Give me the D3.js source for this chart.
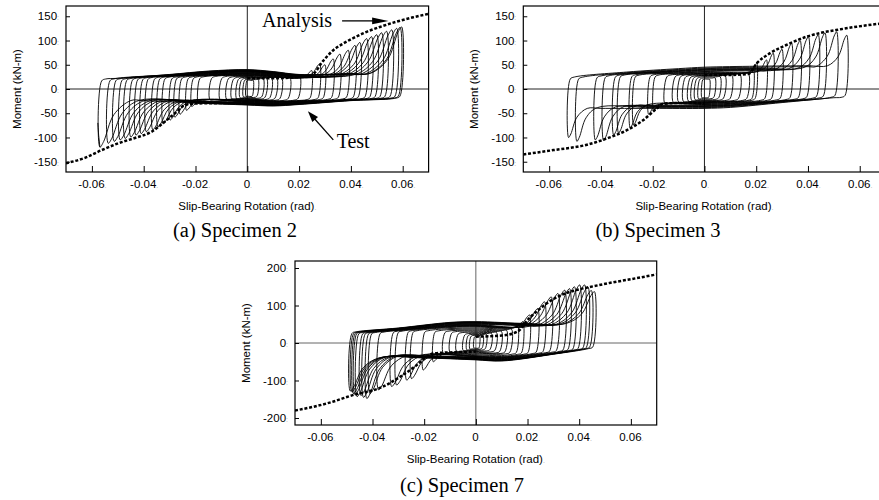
<!DOCTYPE html>
<html>
<head>
<meta charset="utf-8">
<script src="https://cdn.jsdelivr.net/npm/d3@7"></script>
<style>
  body { margin: 0; background: #fff; }
  svg { display: block; }
</style>
</head>
<body>
<div id="chart"></div>
<script>
"use strict";

// ---- shared tick values ----
const xTicks = [-0.06, -0.04, -0.02, 0, 0.02, 0.04, 0.06];
const yTicks150 = [-150, -100, -50, 0, 50, 100, 150];
const yTicks200 = [-200, -100, 0, 100, 200];

// ---- Specimen 2: cycle peaks (rad, kN-m) and slip level factor ----
const s2PosRot = [0.0023, 0.0042, 0.0062, 0.0075, 0.0094, 0.0114, 0.0133, 0.0165, 0.0203, 0.0249, 0.0280, 0.0300, 0.0332,
    0.0358, 0.0390, 0.0416, 0.0435, 0.0461, 0.0480, 0.0500, 0.0519, 0.0538, 0.0558, 0.0577, 0.0590, 0.0596];
const s2PosMom = [18, 20, 21, 22, 23, 23, 23, 23, 26, 38, 52, 50, 62, 72, 80, 90, 96, 104, 108, 112, 116, 119, 122, 125, 127, 128];
const s2NegRot = [-0.0005, -0.0015, -0.0028, -0.0041, -0.0060, -0.0080, -0.0105, -0.0144, -0.0190, -0.0215, -0.0235, -0.0260,
    -0.0280, -0.0298, -0.0325, -0.0345, -0.0365, -0.0390, -0.0410, -0.0430, -0.0450, -0.0472, -0.0491, -0.0514, -0.0537, -0.0569];
const s2NegMom = [-15, -16, -18, -20, -20, -21, -22, -22, -30, -36, -44, -52, -58, -64, -72, -78, -84, -88, -92, -95, -99, -102,
    -105, -108, -112, -120];
const s2Slip = [0.45, 0.5, 0.55, 0.6, 0.62, 0.65, 0.68, 0.7, 0.72, 0.74, 0.76, 0.78, 0.8, 0.82, 0.84, 0.86, 0.88, 0.9, 0.91,
    0.92, 0.93, 0.94, 0.95, 0.97, 0.98, 1.0];
// slip plateaus of the outer loops
const s2UpperSlip = [[-0.07, 18], [-0.05, 22], [-0.03, 30], [-0.015, 37], [0, 40], [0.01, 36], [0.02, 30], [0.04, 32], [0.07, 34]];
const s2LowerSlip = [[-0.07, -22], [-0.04, -24], [-0.02, -29], [0, -33], [0.01, -35], [0.02, -32], [0.04, -24], [0.07, -16]];
const s2Tail = [[-0.0569, -120], [-0.0574, -95], [-0.0577, -70]];
// analysis curve
const s2AnaPos = [[0, 22], [0.01, 22], [0.02, 25], [0.0249, 29], [0.0293, 58], [0.0332, 80], [0.0371, 94], [0.0409, 105],
    [0.0461, 118], [0.0512, 128], [0.0577, 139], [0.0641, 148], [0.07, 155]];
const s2AnaNeg = [[-0.07, -153], [-0.0627, -142], [-0.0562, -126], [-0.0498, -112], [-0.0434, -101], [-0.0369, -88],
    [-0.0318, -67], [-0.0279, -50], [-0.024, -33], [-0.02, -30], [-0.01, -29], [0, -28]];

// ---- Specimen 3 ----
const s3PosRot = [0.0020, 0.0041, 0.0061, 0.0080, 0.0106, 0.0138, 0.0170, 0.0190, 0.0202, 0.0240, 0.0266, 0.0300, 0.0337,
    0.0370, 0.0402, 0.0440, 0.0466, 0.0511, 0.0550];
const s3PosMom = [20, 23, 25, 27, 29, 30, 32, 40, 53, 60, 74, 82, 94, 100, 108, 112, 116, 118, 111];
const s3NegRot = [-0.0010, -0.0023, -0.0036, -0.0049, -0.0062, -0.0081, -0.0100, -0.0120, -0.0152, -0.0197, -0.0216, -0.0274,
    -0.0287, -0.0332, -0.0351, -0.0390, -0.0422, -0.0493, -0.0525];
const s3NegMom = [-18, -20, -22, -24, -25, -26, -27, -28, -32, -45, -52, -74, -80, -91, -95, -106, -105, -108, -100];
const s3Slip = [0.45, 0.5, 0.55, 0.6, 0.62, 0.65, 0.68, 0.7, 0.72, 0.75, 0.78, 0.8, 0.83, 0.86, 0.88, 0.9, 0.93, 0.96, 1.0];
const s3UpperSlip = [[-0.07, 22], [-0.05, 25], [-0.03, 35], [-0.01, 42], [0, 45], [0.02, 47], [0.04, 48], [0.07, 48]];
const s3LowerSlip = [[-0.07, -40], [-0.04, -40], [-0.02, -40], [0, -40], [0.01, -38], [0.03, -28], [0.05, -18], [0.07, -15]];
const s3AnaPos = [[0, 29], [0.01, 29], [0.017, 31], [0.0202, 53], [0.0254, 74], [0.033, 94], [0.0395, 108], [0.046, 117],
    [0.0524, 123], [0.0588, 128.5], [0.0666, 134], [0.07, 136]];
const s3AnaNeg = [[-0.07, -135], [-0.0583, -126], [-0.0454, -115], [-0.0377, -102], [-0.03, -85], [-0.0236, -64],
    [-0.0184, -40], [-0.0158, -30], [-0.01, -29], [0, -29]];

// ---- Specimen 7 ----
const s7PosRot = [0.0015, 0.0028, 0.0041, 0.0061, 0.0080, 0.0099, 0.0119, 0.0138, 0.0163, 0.0183, 0.0208, 0.0240, 0.0266,
    0.0292, 0.0318, 0.0344, 0.0363, 0.0382, 0.0402, 0.0421, 0.0434, 0.0447, 0.0459];
const s7PosMom = [17, 20, 23, 25, 28, 31, 34, 37, 44, 57, 75, 92, 110, 123, 132, 141, 145, 150, 155, 155, 150, 140, 137];
const s7NegRot = [-0.0008, -0.0023, -0.0035, -0.0049, -0.0075, -0.0100, -0.0126, -0.0165, -0.0204, -0.0249, -0.0268, -0.0307,
    -0.0326, -0.0377, -0.0410, -0.0422, -0.0435, -0.0445, -0.0460, -0.0468, -0.0474, -0.0480, -0.0486];
const s7NegMom = [-13, -16, -18, -20, -22, -25, -27, -50, -72, -95, -99, -112, -116, -125, -135, -148, -145, -140, -143, -138,
    -135, -130, -128];
const s7Slip = [0.3, 0.35, 0.4, 0.45, 0.5, 0.55, 0.6, 0.65, 0.7, 0.75, 0.78, 0.8, 0.82, 0.84, 0.86, 0.88, 0.9, 0.92, 0.94,
    0.96, 0.97, 0.98, 1.0];
const s7UpperSlip = [[-0.07, 28], [-0.045, 30], [-0.03, 40], [-0.01, 55], [0, 57], [0.02, 52], [0.045, 52], [0.07, 52]];
const s7LowerSlip = [[-0.07, -40], [-0.045, -40], [-0.02, -40], [0, -45], [0.01, -48], [0.03, -30], [0.045, -15], [0.07, -10]];
const s7AnaPos = [[0, 17], [0.01, 20], [0.016, 30], [0.0205, 65], [0.026, 98], [0.0324, 126], [0.0389, 141], [0.0453, 151],
    [0.0517, 160], [0.0582, 168], [0.0685, 181], [0.07, 183]];
const s7AnaNeg = [[-0.07, -180], [-0.0692, -179], [-0.0551, -156], [-0.0486, -141], [-0.0358, -116], [-0.0293, -90],
    [-0.0229, -59], [-0.019, -37], [-0.0165, -28], [-0.01, -25], [0, -23]];

// panel layout (pixels)
const panels = [
    { id: "a", left: 66, right: 428.6, top: 6, bottom: 172, yMax: 171.2, yTicks: yTicks150, axisColor: "#222",
      caption: "(a) Specimen 2", capX: 235, capY: 237, bw: 0.012,
      posRot: s2PosRot, posMom: s2PosMom, negRot: s2NegRot, negMom: s2NegMom, slip: s2Slip,
      upper: s2UpperSlip, lower: s2LowerSlip, anaPos: s2AnaPos, anaNeg: s2AnaNeg, tail: s2Tail },
    { id: "b", left: 523.3, right: 885.6, top: 6, bottom: 172, yMax: 171.2, yTicks: yTicks150, axisColor: "#222",
      caption: "(b) Specimen 3", capX: 658, capY: 237, bw: 0.009,
      posRot: s3PosRot, posMom: s3PosMom, negRot: s3NegRot, negMom: s3NegMom, slip: s3Slip,
      upper: s3UpperSlip, lower: s3LowerSlip, anaPos: s3AnaPos, anaNeg: s3AnaNeg, tail: null },
    { id: "c", left: 295, right: 656.7, top: 261, bottom: 425, yMax: 218.7, yTicks: yTicks200, axisColor: "#666",
      caption: "(c) Specimen 7", capX: 462, capY: 492, bw: 0.011,
      posRot: s7PosRot, posMom: s7PosMom, negRot: s7NegRot, negMom: s7NegMom, slip: s7Slip,
      upper: s7UpperSlip, lower: s7LowerSlip, anaPos: s7AnaPos, anaNeg: s7AnaNeg, tail: null }
];

const svgContainer = d3.select("#chart").append("svg")
    .attr("width", 879)
    .attr("height", 500);

panels.forEach(p => drawPanel(p));
drawNotes(panels[0]);

// key points of one slip-bearing cycle
function loopPoints(nx, nm, px, pm, k, upProf, dnProf, bw) {
    const up = d3.scaleLinear().domain(upProf.map(d => d[0])).range(upProf.map(d => d[1] * k));
    const dn = d3.scaleLinear().domain(dnProf.map(d => d[0])).range(dnProf.map(d => d[1] * k));
    const c = Math.min(0.0022, (px - nx) * 0.18);
    const pts = [];

    // unload from negative peak, slide along upper plateau
    const uL = up(nx);
    pts.push([nx, nm]);
    pts.push([nx + 0.3 * c, uL - 4]);
    pts.push([nx + c, uL]);
    const riseP = pm - up(px);
    const bP = riseP > 6 ? bw * Math.min(1, 0.3 + riseP / 120) : c;
    const endUp = Math.max(px - bP, nx + c + 0.0006);
    upProf.forEach(d => {
        if (d[0] > nx + c + 0.002 && d[0] < endUp - 0.002) pts.push([d[0], up(d[0])]);
    });
    pts.push([endUp, up(endUp)]);
    if (riseP > 6) {
        pts.push([px - bP * 0.45, up(endUp) + riseP * 0.3]);
        pts.push([px - bP * 0.12, pm - riseP * 0.12]);
    }
    pts.push([px, pm]);

    // unload from positive peak, slide back along lower plateau
    const dR = dn(px);
    pts.push([px - 0.3 * c, dR + 4]);
    pts.push([px - c, dR]);
    const dropN = dn(nx) - nm;
    const bN = dropN > 6 ? bw * Math.min(1, 0.3 + dropN / 120) : c;
    const endDn = Math.min(nx + bN, px - c - 0.0006);
    dnProf.slice().reverse().forEach(d => {
        if (d[0] < px - c - 0.002 && d[0] > endDn + 0.002) pts.push([d[0], dn(d[0])]);
    });
    pts.push([endDn, dn(endDn)]);
    if (dropN > 6) {
        pts.push([nx + bN * 0.45, dn(endDn) - dropN * 0.3]);
        pts.push([nx + bN * 0.12, nm + dropN * 0.12]);
    }
    return pts;
}

function drawPanel(p) {
    const x = d3.scaleLinear().domain([-0.07, 0.07]).range([p.left, p.right]);
    const y = d3.scaleLinear().domain([-p.yMax, p.yMax]).range([p.bottom, p.top]);
    const g = svgContainer.append("g");

    g.append("clipPath").attr("id", "clip-" + p.id)
        .append("rect")
        .attr("x", p.left).attr("y", p.top)
        .attr("width", p.right - p.left).attr("height", p.bottom - p.top);
    const plot = g.append("g").attr("clip-path", "url(#clip-" + p.id + ")");

    // zero lines
    plot.append("line")
        .attr("x1", p.left).attr("x2", p.right)
        .attr("y1", y(0)).attr("y2", y(0))
        .attr("stroke", p.axisColor).attr("stroke-width", 1);
    plot.append("line")
        .attr("x1", x(0)).attr("x2", x(0))
        .attr("y1", p.top).attr("y2", p.bottom)
        .attr("stroke", p.axisColor).attr("stroke-width", 1);

    // test loops
    const cycles = p.posRot.map((d, i) => loopPoints(p.negRot[i], p.negMom[i], p.posRot[i], p.posMom[i],
        p.slip[i], p.upper, p.lower, p.bw));
    const loopLine = d3.line()
        .x(d => x(d[0]))
        .y(d => y(d[1]))
        .curve(d3.curveCatmullRomClosed.alpha(0.5));
    plot.selectAll(".loop")
        .data(cycles)
        .enter()
        .append("path")
        .attr("class", "loop")
        .attr("d", loopLine)
        .attr("fill", "none")
        .attr("stroke", "#000")
        .attr("stroke-width", 0.9);

    if (p.tail) {
        plot.append("path")
            .attr("d", d3.line().x(d => x(d[0])).y(d => y(d[1]))(p.tail))
            .attr("fill", "none").attr("stroke", "#000").attr("stroke-width", 0.9);
    }

    // analysis
    const anaLine = d3.line()
        .x(d => x(d[0]))
        .y(d => y(d[1]))
        .curve(d3.curveMonotoneX);
    [p.anaPos, p.anaNeg].forEach(branch => {
        plot.append("path")
            .attr("d", anaLine(branch))
            .attr("fill", "none")
            .attr("stroke", "#000")
            .attr("stroke-width", 2.5)
            .attr("stroke-dasharray", "3 1.8");
    });

    // axes with inward ticks
    const xAxis = d3.axisBottom(x)
        .tickValues(xTicks)
        .tickSizeInner(-6).tickSizeOuter(0).tickPadding(8)
        .tickFormat(d => String(d));
    const gx = g.append("g")
        .attr("transform", "translate(0," + p.bottom + ")")
        .call(xAxis);
    const yAxis = d3.axisLeft(y)
        .tickValues(p.yTicks)
        .tickSizeInner(-4).tickSizeOuter(0).tickPadding(7)
        .tickFormat(d => String(d));
    const gy = g.append("g")
        .attr("transform", "translate(" + p.left + ",0)")
        .call(yAxis);
    [gx, gy].forEach(ax => {
        ax.select(".domain").remove();
        ax.selectAll("line").attr("stroke", "#000");
        ax.selectAll("text")
            .attr("font-family", "'Liberation Sans', Arial, sans-serif")
            .attr("font-size", "11.5px")
            .attr("fill", "#000");
    });
    // faint trailing marks after tick labels, as in the scan
    gx.selectAll("text").append("tspan").attr("fill", "#aaa").attr("font-size", "7px").text(".");
    gy.selectAll("text").append("tspan").attr("fill", "#aaa").attr("font-size", "7px").text(":");

    // frame
    g.append("rect")
        .attr("x", p.left).attr("y", p.top)
        .attr("width", p.right - p.left).attr("height", p.bottom - p.top)
        .attr("fill", "none").attr("stroke", "#000").attr("stroke-width", 1.2);

    // axis titles
    g.append("text")
        .attr("transform", "translate(" + (p.left - 49) + "," + ((p.top + p.bottom) / 2) + ") rotate(-90)")
        .attr("text-anchor", "middle")
        .attr("dy", "0.35em")
        .attr("font-family", "'Liberation Sans', Arial, sans-serif")
        .attr("font-size", "11.5px")
        .text("Moment (kN-m)");
    const xt = g.append("text")
        .attr("x", x(0)).attr("y", p.bottom + 37.5)
        .attr("text-anchor", "middle")
        .attr("font-family", "'Liberation Sans', Arial, sans-serif")
        .attr("font-size", "11.5px")
        .text("Slip-Bearing Rotation (rad)");
    xt.append("tspan").attr("fill", "#aaa").attr("font-size", "7px").text(".");

    // caption
    g.append("text")
        .attr("x", p.capX).attr("y", p.capY)
        .attr("text-anchor", "middle")
        .attr("font-family", "'Liberation Serif', 'Times New Roman', serif")
        .attr("font-size", "20.5px")
        .text(p.caption);
}

// "Analysis" and "Test" call-outs in panel (a)
function drawNotes(p) {
    const x = d3.scaleLinear().domain([-0.07, 0.07]).range([p.left, p.right]);
    const y = d3.scaleLinear().domain([-p.yMax, p.yMax]).range([p.bottom, p.top]);
    const g = svgContainer.append("g")
        .attr("font-family", "'Liberation Serif', 'Times New Roman', serif")
        .attr("font-size", "20px");

    g.append("text").attr("x", x(0.0057)).attr("y", y(128)).text("Analysis");
    g.append("line")
        .attr("x1", x(0.0366)).attr("y1", y(140.5))
        .attr("x2", x(0.0486)).attr("y2", y(140.5))
        .attr("stroke", "#000").attr("stroke-width", 1.3);
    g.append("path")
        .attr("d", d3.line()([[x(0.0482), y(147.5)], [x(0.0545), y(140.5)], [x(0.0482), y(133.5)]]))
        .attr("fill", "#000");

    g.append("text").attr("x", x(0.0345)).attr("y", y(-121.7)).text("Test");
    const x1 = x(0.0332), y1 = y(-105), x2 = x(0.0234), y2 = y(-45.8);
    const ang = Math.atan2(y2 - y1, x2 - x1);
    g.append("line")
        .attr("x1", x1).attr("y1", y1)
        .attr("x2", x2 - 8 * Math.cos(ang)).attr("y2", y2 - 8 * Math.sin(ang))
        .attr("stroke", "#000").attr("stroke-width", 1.3);
    const head = [[x2, y2],
        [x2 - 11 * Math.cos(ang) + 3.8 * Math.sin(ang), y2 - 11 * Math.sin(ang) - 3.8 * Math.cos(ang)],
        [x2 - 11 * Math.cos(ang) - 3.8 * Math.sin(ang), y2 - 11 * Math.sin(ang) + 3.8 * Math.cos(ang)]];
    g.append("path").attr("d", d3.line()(head)).attr("fill", "#000");
}
</script>
</body>
</html>
